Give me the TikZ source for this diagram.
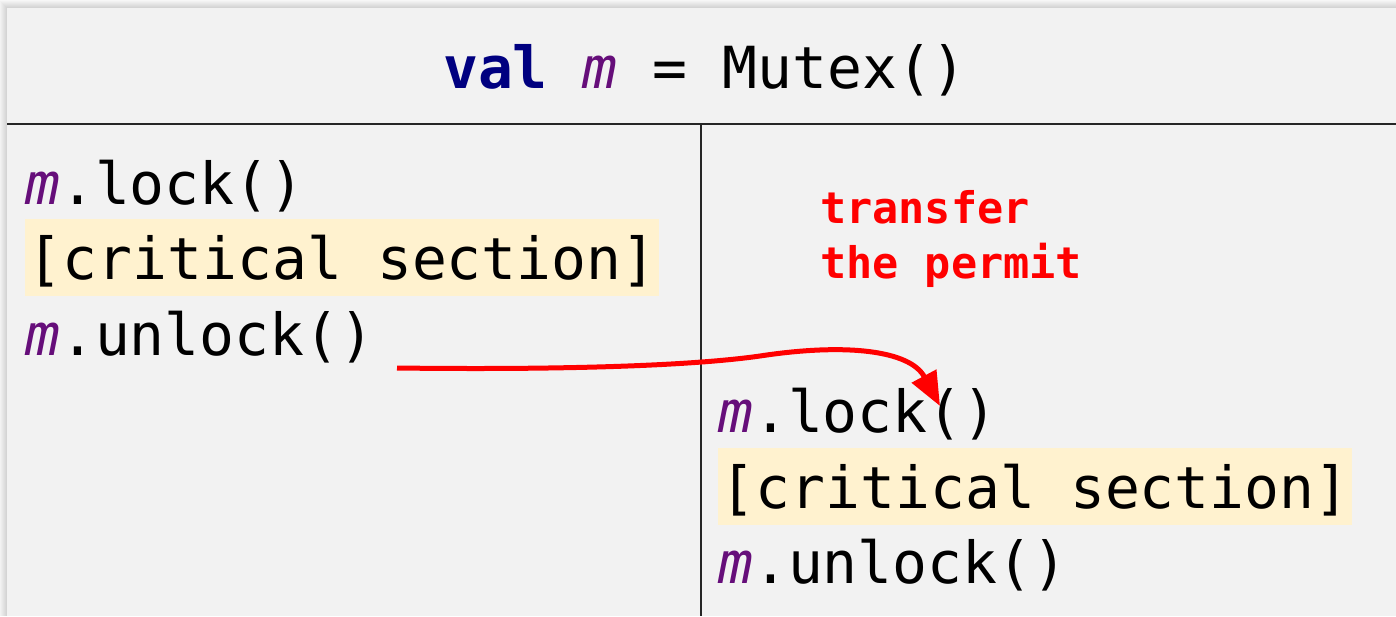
\documentclass[tikz,border=0pt]{standalone}
\usepackage{fontspec}
\newfontfamily\code{DejaVu Sans Mono}
\usetikzlibrary{arrows.meta}
\definecolor{panel}{HTML}{F2F2F2}
\definecolor{hilite}{HTML}{FFF2CF}
\definecolor{kwnavy}{HTML}{000080}
\definecolor{varpurple}{HTML}{660E7A}
\definecolor{permitred}{HTML}{FF0000}
\tikzset{
  codetext/.style={inner sep=0pt, anchor=base west, font=\code\fontsize{58}{70}\selectfont},
  crit/.style={codetext, fill=hilite, inner xsep=0pt, inner ysep=0pt, minimum width=634pt, text height=60pt, text depth=17pt},
  note/.style={inner sep=0pt, anchor=base west, text=permitred, font=\code\bfseries\fontsize{43.5}{52}\selectfont},
  divider/.style={draw=black!85, line width=1.8pt},
  transfer/.style={draw=permitred, line width=5pt, -{Triangle[length=34pt,width=27pt]}}
}
\newcommand{\mvar}{{\itshape\color{varpurple}m}}
\begin{document}
\begin{tikzpicture}[x=1pt,y=-1pt]
\useasboundingbox (0,0) rectangle (1396,616);
\fill[white] (0,0) rectangle (1396,616);
% shadow
\foreach \k/\s in {8/3,7/5,6/7,5/9,4/11,3/13,2/15,1/17}
  \fill[black!\s] (7-\k,8-\k) rectangle (1396,616);
\fill[panel] (7,8) rectangle (1396,616);
% dividers
\coordinate (hl) at (7,124);
\coordinate (hr) at (1396,124);
\coordinate (vt) at (701,124);
\coordinate (vb) at (701,616);
\draw[divider] (hl) -- (hr);
\draw[divider] (vt) -- (vb);
% title
\node[codetext, anchor=base] (title) at (705,88)
  {{\bfseries\color{kwnavy}val} \mvar{} = Mutex()};
% left thread
\node[codetext] (llock) at (25,204) {\mvar.lock()};
\node[crit] (lcrit) at (25,279) {[critical section]};
\node[codetext] (lunlock) at (25,355) {\mvar.unlock()};
% right thread
\node[codetext] (rlock) at (718,432) {\mvar.lock()};
\node[crit] (rcrit) at (718,508) {[critical section]};
\node[codetext] (runlock) at (718,583) {\mvar.unlock()};
% note
\node[note] (note1) at (820,223) {transfer};
\node[note] (note2) at (820,278) {the permit};
% arrow
\coordinate (from) at (397,368);
\coordinate (to) at (940,406);
\draw[transfer] (from) .. controls (560,370) and (690,366) .. (760,356)
  .. controls (845,343) and (910,350) .. (to);
\end{tikzpicture}
\end{document}
